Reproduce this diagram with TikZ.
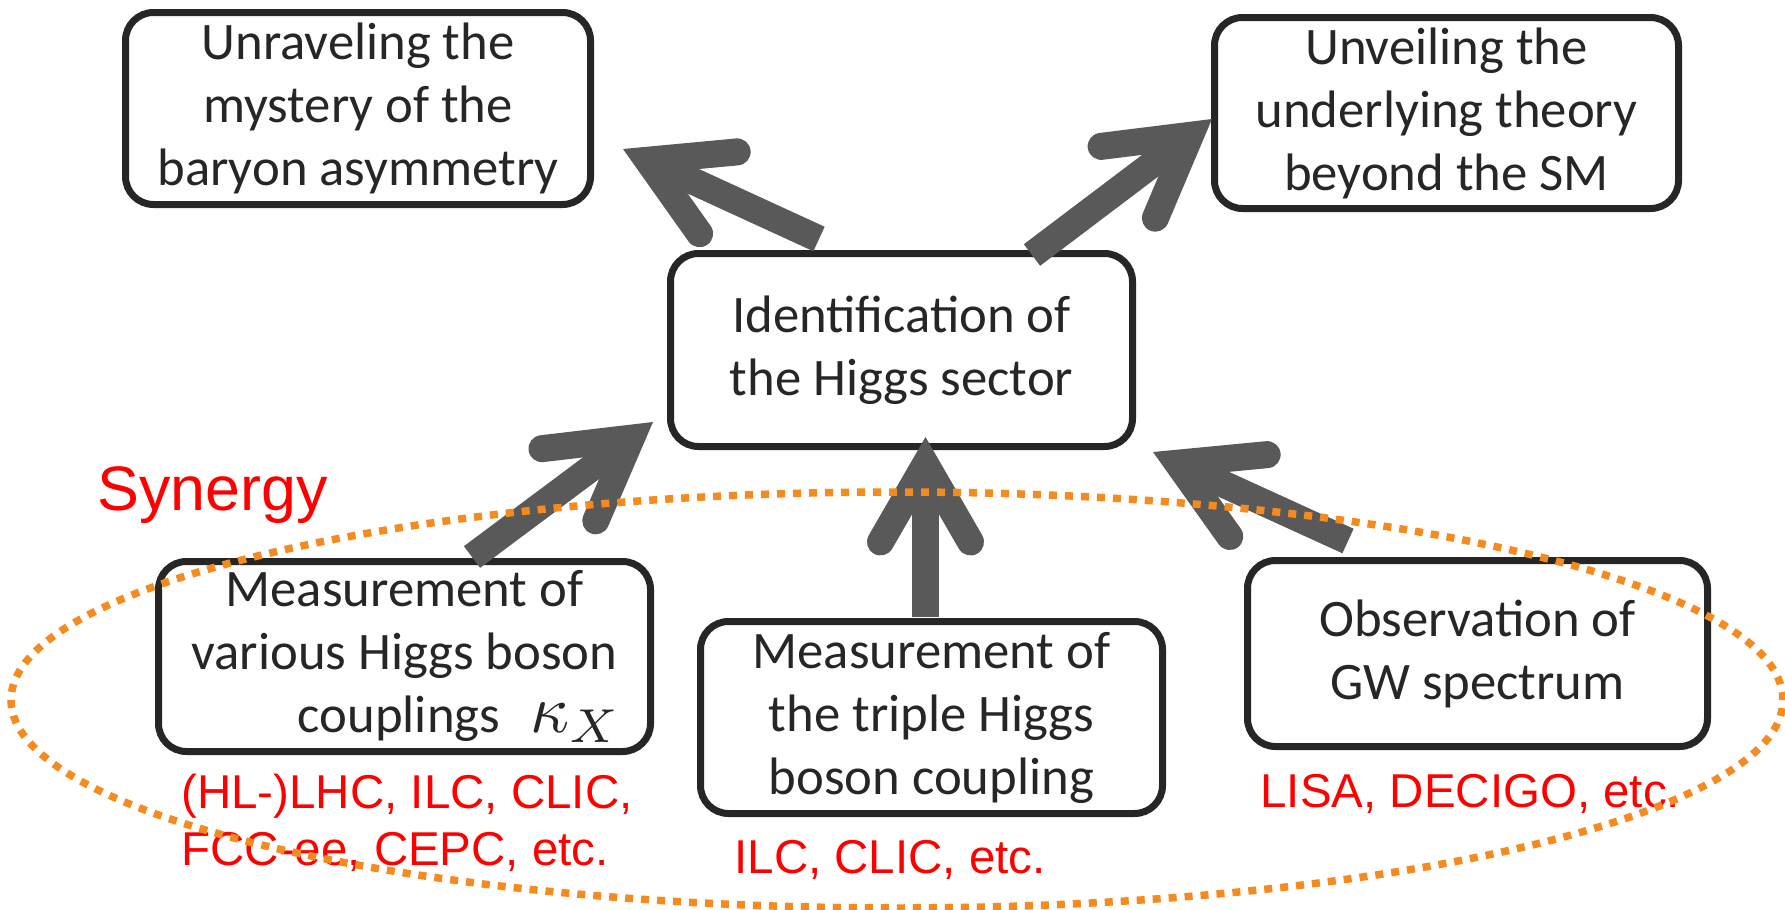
\documentclass[tikz,border=0pt]{standalone}
\usepackage{graphicx}
\usepackage{fontspec}
\usetikzlibrary{calc}
\newfontfamily\boxfont{Carlito}
\newfontfamily\redfont{Liberation Sans}
\definecolor{bordc}{HTML}{262626}
\definecolor{arrc}{HTML}{595959}
\definecolor{orng}{HTML}{F58A1F}
\definecolor{redc}{HTML}{FF0000}
\newcommand\fatarrow[2]{%
  \coordinate (V) at ($(#2)!13.5pt!(#1)$);
  \draw[arrline, line cap=butt] (#1) -- (V);
  \draw[arrline, line cap=round, line join=miter] ($(V)!45pt!30:(#1)$) -- (V) -- ($(V)!45pt!-30:(#1)$);
}
\begin{document}
\begin{tikzpicture}[x=0.5pt,y=-0.5pt,
  box/.style={draw=bordc, line width=3.5pt, rounded corners=14pt, fill=white, inner sep=0pt, align=center, text=bordc, font=\boxfont\fontsize{26.35pt}{31.5pt}\selectfont},
  lab/.style={anchor=base west, inner sep=0pt, text=redc, font=\redfont\fontsize{23.75pt}{28.5pt}\selectfont},
  arrline/.style={draw=arrc, line width=13.5pt},
  syn/.style={anchor=base west, inner sep=0pt, text=redc, font=\redfont\fontsize{31.4pt}{37pt}\selectfont},
  ell/.style={draw=orng, line width=3.75pt, dash pattern=on 4pt off 4pt}
]
\useasboundingbox[fill=white] (0,0) rectangle (1785,910);

\node[box, minimum width=232.5pt, minimum height=96pt] (A) at (358,108.5) {Unraveling the\\mystery of the\\baryon asymmetry};
\node[box, minimum width=232pt, minimum height=95.5pt] (B) at (1446.5,113) {Unveiling the\\underlying theory\\beyond the SM};
\node[box, minimum width=231pt, minimum height=96.5pt] (H) at (901.5,350) {Identification of\\the Higgs sector};
\node[box, minimum width=246pt, minimum height=95pt] (C) at (404.5,656.5) {Measurement of\\various Higgs boson\\\hspace*{55pt}couplings\hspace{15pt}\scalebox{3.4}{\fontsize{10pt}{12pt}\selectfont$\kappa_X$}};
\node[box, minimum width=231pt, minimum height=96pt] (D) at (931.5,717.5) {Measurement of\\the triple Higgs\\boson coupling};
\node[box, minimum width=230pt, minimum height=93pt] (E) at (1477.5,653.5) {Observation of\\GW spectrum};

\coordinate (t1) at (819,239);   \coordinate (h1) at (623,149);
\coordinate (t2) at (1032,255);  \coordinate (h2) at (1212,119);
\coordinate (t3) at (472,557);   \coordinate (h3) at (653,422);
\coordinate (t4) at (1348,541);  \coordinate (h4) at (1153,452);
\coordinate (t5) at (925.5,617); \coordinate (h5) at (925.5,437);

\fatarrow{t1}{h1}
\fatarrow{t2}{h2}
\fatarrow{t3}{h3}
\fatarrow{t4}{h4}
\fatarrow{t5}{h5}

\node[syn] (syn) at (97,510) {Synergy};
\node[lab] (lc1) at (181,808) {(HL-)LHC, ILC, CLIC,};
\node[lab] (lc2) at (181,865) {FCC-ee, CEPC, etc.};
\node[lab] (ld) at (734,873) {ILC, CLIC, etc.};
\node[lab] (le) at (1260,807) {LISA, DECIGO, etc.};

\draw[ell] (897,700) ellipse [x radius=443pt, y radius=104pt];
\end{tikzpicture}
\end{document}
